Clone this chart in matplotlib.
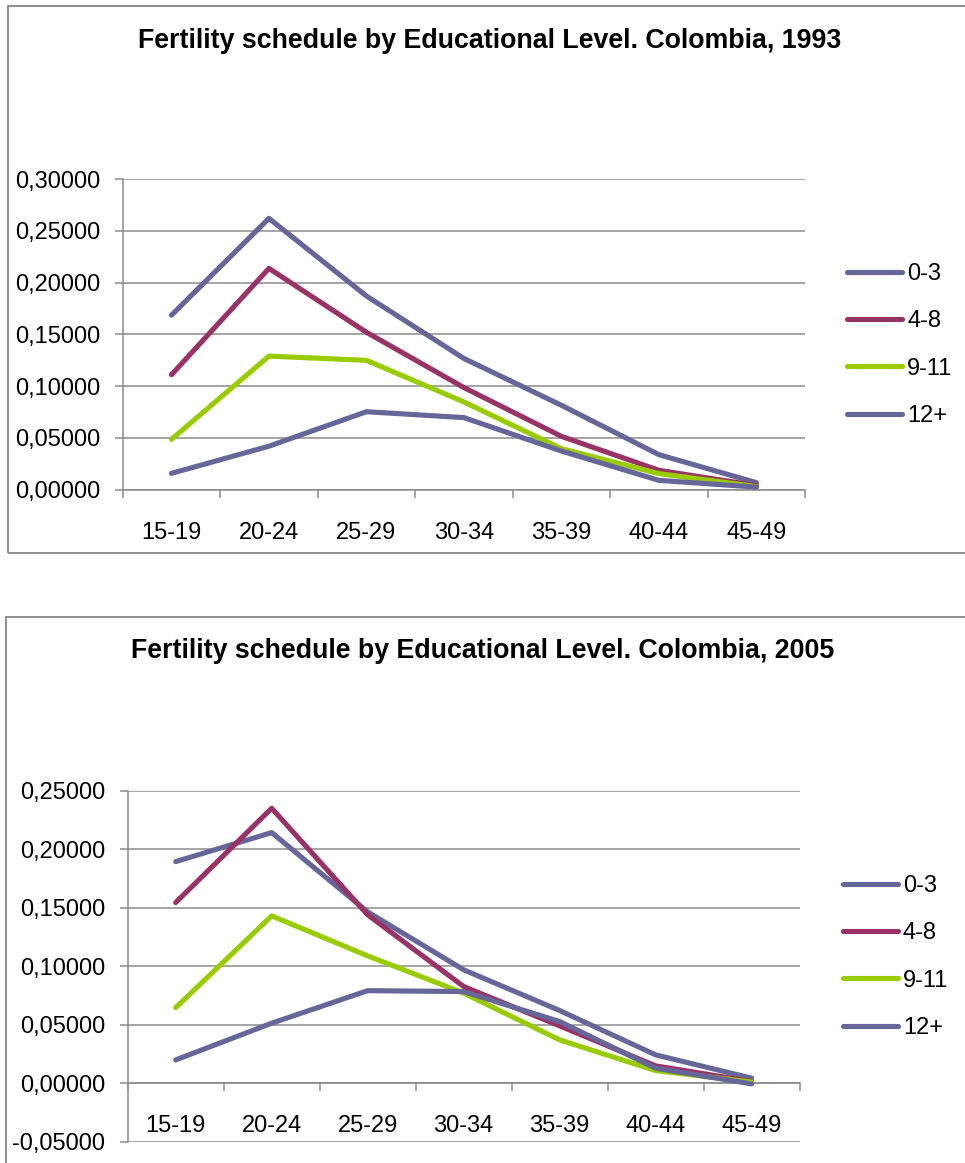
import matplotlib
matplotlib.use('Agg')
import matplotlib.pyplot as plt
from matplotlib.patches import Rectangle
from matplotlib.ticker import FuncFormatter, FixedLocator

plt.rcParams['font.family'] = ['Liberation Sans', 'DejaVu Sans']

# ---------------------------------------------------------------------
# Data
# ---------------------------------------------------------------------
age_groups = ['15-19', '20-24', '25-29', '30-34', '35-39', '40-44', '45-49']
edu_levels = ['0-3', '4-8', '9-11', '12+']

# Colombia 1993
y1993_0_3 = [0.1685, 0.2620, 0.1870, 0.1267, 0.0815, 0.0338, 0.0068]
y1993_4_8 = [0.1110, 0.2137, 0.1520, 0.0986, 0.0515, 0.0187, 0.0040]
y1993_9_11 = [0.0486, 0.1290, 0.1249, 0.0847, 0.0396, 0.0155, 0.0030]
y1993_12p = [0.0158, 0.0420, 0.0753, 0.0696, 0.0373, 0.0090, 0.0025]

# Colombia 2005
y2005_0_3 = [0.1894, 0.2142, 0.1464, 0.0969, 0.0621, 0.0242, 0.0043]
y2005_4_8 = [0.1544, 0.2350, 0.1439, 0.0826, 0.0490, 0.0148, 0.0014]
y2005_9_11 = [0.0646, 0.1430, 0.1088, 0.0770, 0.0370, 0.0108, 0.0010]
y2005_12p = [0.0199, 0.0513, 0.0791, 0.0783, 0.0527, 0.0128, -0.0006]

colors = ['#666699', '#993366', '#99CC00', '#666699']
GRID = '#8c8c8c'

W, H = 965, 1163
fig = plt.figure(figsize=(W / 100, H / 100), dpi=100)


def px_box(x0, y0, x1, y1):
    """Pixel box (top-left origin) -> figure-fraction rect."""
    return [x0 / W, 1 - y1 / H, (x1 - x0) / W, (y1 - y0) / H]


def comma_fmt(v, pos):
    s = f'{v:.5f}'.replace('.', ',')
    if s.startswith('-0,00000'):
        s = '0,00000'
    return s


def draw_panel(ax, series, yticks, legend_anchor):
    x = list(range(len(age_groups)))
    for vals, name, col in zip(series, edu_levels, colors):
        ax.plot(x, vals, color=col, lw=3.7, label=name,
                solid_capstyle='round', solid_joinstyle='round', zorder=3)

    ax.set_xlim(-0.5, len(age_groups) - 0.5)
    ax.set_ylim(yticks[0], yticks[-1])
    ax.set_yticks(yticks)
    ax.yaxis.set_major_formatter(FuncFormatter(comma_fmt))
    ax.grid(axis='y', color=GRID, lw=1.1, zorder=0)

    ax.set_xticks(x)
    ax.set_xticklabels(age_groups)
    ax.xaxis.set_minor_locator(FixedLocator([i - 0.5 for i in range(len(age_groups) + 1)]))
    ax.tick_params(axis='x', which='major', length=0, pad=23, labelsize=17)
    ax.tick_params(axis='x', which='minor', length=6, width=1.1, color=GRID,
                   direction='out')
    ax.tick_params(axis='y', length=6, width=1.1, color=GRID, pad=10,
                   labelsize=17)

    for side in ['top', 'right']:
        ax.spines[side].set_visible(False)
    ax.spines['left'].set_color(GRID)
    ax.spines['left'].set_linewidth(1.1)
    ax.spines['bottom'].set_color(GRID)
    ax.spines['bottom'].set_linewidth(1.1)
    ax.spines['bottom'].set_position(('data', 0))

    ax.legend(loc='center left', bbox_to_anchor=legend_anchor, frameon=False,
              fontsize=17, handlelength=2.35, handletextpad=0.2,
              labelspacing=1.07, borderpad=0, borderaxespad=0)


# panel frames
fig.patches.append(Rectangle((8 / W, 1 - 553 / H), 2, (553 - 6) / H,
                             transform=fig.transFigure, fill=False,
                             edgecolor='#868686', lw=1.3))
fig.patches.append(Rectangle((6 / W, 1 - 1200 / H), 2, (1200 - 617) / H,
                             transform=fig.transFigure, fill=False,
                             edgecolor='#868686', lw=1.3))

ax1 = fig.add_axes(px_box(122.7, 179, 805.2, 489.7))
draw_panel(ax1, [y1993_0_3, y1993_4_8, y1993_9_11, y1993_12p],
           [0, 0.05, 0.10, 0.15, 0.20, 0.25, 0.30], (1.061, 0.466))

ax2 = fig.add_axes(px_box(127.7, 790.7, 799.7, 1141.7))
draw_panel(ax2, [y2005_0_3, y2005_4_8, y2005_9_11, y2005_12p],
           [-0.05, 0, 0.05, 0.10, 0.15, 0.20, 0.25], (1.064, 0.526))

fig.text(490 / W, 1 - 41 / H,
         'Fertility schedule by Educational Level. Colombia, 1993',
         ha='center', va='center', fontsize=19.3, fontweight='bold')
fig.text(483 / W, 1 - 651 / H,
         'Fertility schedule by Educational Level. Colombia, 2005',
         ha='center', va='center', fontsize=19.3, fontweight='bold')

fig.savefig('out.png', dpi=100)
